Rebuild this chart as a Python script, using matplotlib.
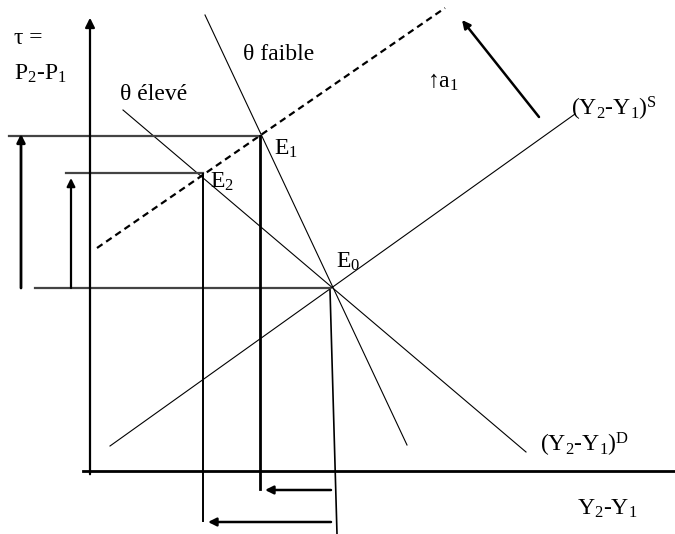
import matplotlib.pyplot as plt

plt.rcParams['font.family'] = ['Liberation Serif', 'DejaVu Serif']
plt.rcParams['mathtext.fontset'] = 'custom'
plt.rcParams['mathtext.rm'] = 'Liberation Serif'
plt.rcParams['mathtext.default'] = 'rm'

# points du schéma (coordonnées en pixels, y vers le bas)
E0 = (330, 288)
E1 = (260, 136)
E2 = (203, 174)

# courbes
offre_x = [110, 575]
offre_y = [446, 114]
offre_new_x = [97, 445]
offre_new_y = [248, 8]
faible_x = [205, 407]
faible_y = [15, 445]
eleve_x = [123, 526]
eleve_y = [110, 452]

# axes
axe_y_x = [90, 90]
axe_y_y = [477, 15]
axe_x_x = [83, 675]
axe_x_y = [471, 471]

# lignes de projection
h_x = [[35, 330], [9, 260], [66, 203]]
h_y = [[288, 288], [136, 136], [173, 173]]
v_x = [[260, 260], [203, 203], [330, 337]]
v_y = [[136, 489], [174, 521], [290, 534]]
v_lw = [2.0, 1.4, 1.2]

# flèches (départ -> arrivée)
fl_start = [(21, 288), (71, 288), (331, 490), (331, 522), (539, 117)]
fl_end = [(21, 134), (71, 178), (265, 490), (208, 522), (462, 20)]
fl_lw = [2.0, 1.6, 1.8, 1.8, 1.8]

# textes
labels = ['τ =', 'P$_2$-P$_1$', 'θ faible', 'θ élevé', 'E$_1$', 'E$_2$', 'E$_0$',
          '↑a$_1$', '(Y$_2$-Y$_1$)$^{\\mathrm{S}}$', '(Y$_2$-Y$_1$)$^{\\mathrm{D}}$', 'Y$_2$-Y$_1$']
lab_x = [14, 14, 243, 120, 274, 210, 336, 427, 571, 540, 577]
lab_y = [38, 74, 55, 95, 149, 182, 262, 82, 109, 445, 509]

fig = plt.figure(figsize=(6.75, 5.34), dpi=100)
ax = fig.add_axes([0, 0, 1, 1])
ax.set_xlim(0, 675)
ax.set_ylim(534, 0)
ax.axis('off')

ax.plot(offre_x, offre_y, color='black', lw=0.8)
ax.plot(offre_new_x, offre_new_y, color='black', lw=1.6, linestyle=(0, (3, 2)))
ax.plot(faible_x, faible_y, color='black', lw=0.8)
ax.plot(eleve_x, eleve_y, color='black', lw=0.8)

ax.plot(axe_x_x, axe_x_y, color='black', lw=2.0)
ax.annotate('', xy=(axe_y_x[1], axe_y_y[1]), xytext=(axe_y_x[0], axe_y_y[0]),
            arrowprops=dict(arrowstyle='-|>', color='black', lw=1.6, mutation_scale=14))

for xs, ys in zip(h_x, h_y):
    ax.plot(xs, ys, color='#444444', lw=1.6)
for xs, ys, lw in zip(v_x, v_y, v_lw):
    ax.plot(xs, ys, color='black', lw=lw)

for s, e, lw in zip(fl_start, fl_end, fl_lw):
    ax.annotate('', xy=e, xytext=s,
                arrowprops=dict(arrowstyle='-|>', color='black', lw=lw,
                                mutation_scale=12, shrinkA=0, shrinkB=0))

for t, x, y in zip(labels, lab_x, lab_y):
    ax.text(x, y, t, fontsize=17, ha='left', va='center')

fig.savefig('out.png', dpi=100)
